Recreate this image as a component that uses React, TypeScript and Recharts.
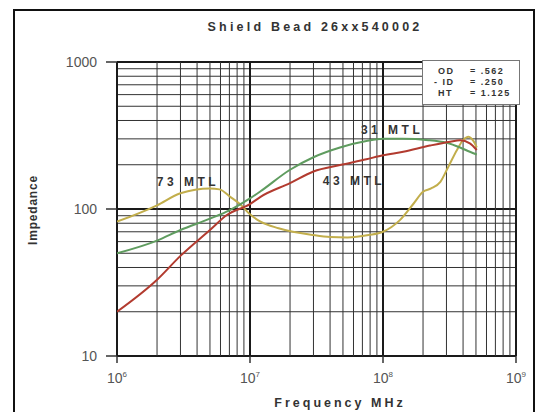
import React from "react";
import { CartesianGrid, Line, LineChart, ReferenceDot, XAxis, YAxis } from "recharts";

// frequency (Hz) / impedance (ohm)
const freq43 = [1e6, 2e6, 3e6, 5e6, 6.7e6, 1e7, 1.2e7, 2e7, 3e7, 4.75e7, 7.5e7, 1e8, 1.42e8, 2.25e8, 3.2e8, 3.8e8, 4.5e8, 5.07e8];
const z43 = [20, 33, 48, 72, 91, 108, 121, 150, 180, 199, 218, 232, 245, 270, 287, 293, 280, 252];

const freq31 = [1e6, 2e6, 3e6, 5e6, 7e6, 1e7, 1.2e7, 2e7, 3e7, 4.75e7, 7.5e7, 1e8, 1.4e8, 2.2e8, 3e8, 3.8e8, 4.5e8, 5.07e8];
const z31 = [50, 61, 72, 86, 98, 118, 132, 185, 225, 262, 290, 300, 300, 294, 282, 262, 245, 235];

const freq73 = [1e6, 2e6, 3e6, 5e6, 5.9e6, 7.1e6, 8.4e6, 1e7, 1.2e7, 1.64e7, 3e7, 4e7, 5.4e7, 7.8e7, 1e8, 1.34e8, 1.7e8, 2e8, 2.3e8, 2.7e8, 3.1e8, 3.6e8, 4e8, 4.4e8, 4.6e8, 4.9e8, 5.07e8];
const z73 = [82, 106, 128, 138, 136, 121, 108, 92, 82, 74, 66.5, 64.5, 64, 66.5, 70, 84, 109, 131, 138, 153, 194, 252, 294, 310, 303, 280, 262];

const decadesX = [1e6, 1e7, 1e8];
const decadesY = [10, 100];
const steps = [1, 2, 3, 4, 5, 6, 7, 8, 9];
const xTicks = [...decadesX.flatMap((d) => steps.map((s) => d * s)), 1e9];
const yTicks = [10, ...decadesY.flatMap((d) => steps.slice(1).map((s) => d * s)), 100, 1000].sort((a, b) => a - b)
  .filter((v, i, a) => a.indexOf(v) === i);

const seriesLabels = [
  { name: "73 MTL", f: 3.42e6, z: 153 },
  { name: "43 MTL", f: 6.05e7, z: 155 },
  { name: "31 MTL", f: 1.17e8, z: 344 },
];

const toRows = (fs: number[], zs: number[]) => fs.map((f, i) => ({ f, z: zs[i] }));
const data43 = toRows(freq43, z43);
const data31 = toRows(freq31, z31);
const data73 = toRows(freq73, z73);

const font = "'Liberation Sans', Arial, sans-serif";
const isDecade = (v: number) => Math.abs(Math.log10(v) - Math.round(Math.log10(v))) < 1e-9;

function XTick(props: any) {
  const { x, y, payload } = props;
  if (!isDecade(payload.value)) return <g />;
  const e = Math.round(Math.log10(payload.value));
  return (
    <g>
      <line x1={x} x2={x} y1={y} y2={y + 7} stroke="#333" strokeWidth={1.5} />
      <text x={x} y={y + 27} textAnchor="middle" fontFamily={font} fontSize={14} fill="#555">
        <tspan>10</tspan>
        <tspan dy={-6} fontSize={8}>{e}</tspan>
      </text>
    </g>
  );
}

function YTick(props: any) {
  const { x, y, payload } = props;
  if (!isDecade(payload.value)) return <g />;
  return (
    <g>
      <line x1={x - 11} x2={x} y1={y} y2={y} stroke="#333" strokeWidth={1.5} />
      <text x={x - 20} y={y + 5} textAnchor="end" fontFamily={font} fontSize={14} fill="#555">
        {payload.value}
      </text>
    </g>
  );
}

function HLine(props: any) {
  const { x1, x2, y1, y2, index } = props;
  const major = isDecade(yTicks[index] ?? 2);
  return <line x1={x1} x2={x2} y1={y1} y2={y2} stroke={major ? "#1a1a1a" : "#333"} strokeWidth={major ? 2 : 1} />;
}

function VLine(props: any) {
  const { x1, x2, y1, y2, index } = props;
  const major = isDecade(xTicks[index] ?? 2);
  return <line x1={x1} x2={x2} y1={y1} y2={y2} stroke={major ? "#1a1a1a" : "#333"} strokeWidth={major ? 2 : 1} />;
}

const labelStyle = { fontFamily: font, fontSize: 12, fontWeight: 700, letterSpacing: 3.5, fill: "#333" };

export default function App() {
  return (
    <div style={{ position: "absolute", left: 0, top: 0, width: 547, height: 412, background: "#fff", overflow: "hidden", fontFamily: font }}>
      <div style={{ position: "absolute", left: 13, top: 9, width: 522, height: 420, border: "2px solid #111", boxSizing: "border-box" }} />
      <div style={{ position: "absolute", left: 160, top: 20, width: 310, textAlign: "center", fontSize: 12.5, fontWeight: 700, letterSpacing: 3.2, color: "#333" }}>
        Shield Bead 26xx540002
      </div>
      <LineChart width={547} height={412} data={data43} margin={{ top: 62, right: 31, bottom: 26, left: 57 }} style={{ position: "absolute", left: 0, top: 0 }}>
        <CartesianGrid horizontal={(p: any) => <HLine key={`h${p.index}`} {...p} />} vertical={(p: any) => <VLine key={`v${p.index}`} {...p} />} />
        <XAxis dataKey="f" type="number" scale="log" domain={[1e6, 1e9]} ticks={xTicks} allowDataOverflow
          axisLine={false} tickLine={false} tickSize={0} tickMargin={0} interval={0} height={30} tick={<XTick />} />
        <YAxis type="number" scale="log" domain={[10, 1000]} ticks={yTicks} allowDataOverflow
          axisLine={false} tickLine={false} tickSize={0} tickMargin={0} interval={0} width={60} tick={<YTick />} />
        <Line data={data73} dataKey="z" type="monotone" stroke="#c2ae4c" strokeWidth={2} dot={false} isAnimationActive={false} />
        <Line data={data31} dataKey="z" type="monotone" stroke="#5f9c5f" strokeWidth={2} dot={false} isAnimationActive={false} />
        <Line data={data43} dataKey="z" type="monotone" stroke="#b23b2f" strokeWidth={2} dot={false} isAnimationActive={false} />
        {seriesLabels.map((l) => (
          <ReferenceDot key={l.name} x={l.f} y={l.z} r={0} fill="none" stroke="none"
            label={{ value: l.name, position: "center", ...labelStyle }} />
        ))}
      </LineChart>
      <div style={{ position: "absolute", left: 18, top: 210, transform: "translate(0,-50%) rotate(-90deg)", transformOrigin: "center", width: 30, display: "flex", justifyContent: "center" }}>
        <span style={{ whiteSpace: "nowrap", fontSize: 12, fontWeight: 700, letterSpacing: 0.8, color: "#333" }}>Impedance</span>
      </div>
      <div style={{ position: "absolute", left: 190, top: 396, width: 300, textAlign: "center", fontSize: 12.5, fontWeight: 700, letterSpacing: 3, color: "#333" }}>
        Frequency MHz
      </div>
      <div style={{ position: "absolute", left: 422, top: 60, width: 98, height: 45, border: "1px solid #777", background: "#fff", boxSizing: "border-box", fontSize: 9, fontWeight: 700, color: "#333", letterSpacing: 1.5, lineHeight: "11px" }}>
        <div style={{ position: "absolute", left: 11, top: 5 }}>
          <div>&nbsp;OD</div>
          <div>- ID</div>
          <div>&nbsp;HT</div>
        </div>
        <div style={{ position: "absolute", left: 47, top: 5, whiteSpace: "nowrap" }}>
          <div>= .562</div>
          <div>= .250</div>
          <div>= 1.125</div>
        </div>
      </div>
    </div>
  );
}
